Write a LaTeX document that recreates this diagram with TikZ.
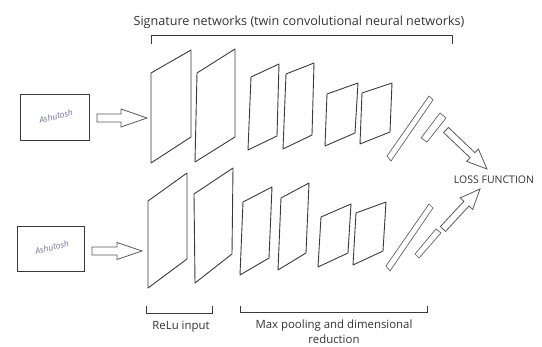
\documentclass[tikz,border=0pt]{standalone}
\usepackage{fontspec}
\setmainfont{Open Sans}
\usetikzlibrary{calc}

\definecolor{ink}{HTML}{3A3A3A}
\definecolor{txt}{HTML}{333333}
\definecolor{pen}{HTML}{6E73A8}

\tikzset{
  layer/.style={draw=ink, line width=0.9pt, line join=round},
  bar/.style={draw=ink!80, line width=0.7pt, line join=round},
  imgbox/.style={draw=ink, line width=0.9pt},
  fatarrow/.style={draw=ink!85, line width=0.8pt, line join=miter, fill=white},
  brace/.style={draw=ink, line width=0.9pt},
  label/.style={text=txt, font=\fontsize{11.4}{15}\selectfont, inner sep=0pt},
  sig/.style={text=pen, font=\fontsize{8.5}{9}\selectfont\itshape, inner sep=0pt, rotate=14}
}

% block arrow from #1 to #2: shaft half width #3, head length #4, head half width #5
\newcommand\blockarr[5]{%
  \coordinate (ba) at ($(#2)!#4!(#1)$);
  \draw[fatarrow] ($(#1)!#3!90:(#2)$) -- ($(ba)!#3!-90:(#1)$) -- ($(ba)!#5!-90:(#1)$)
    -- (#2) -- ($(ba)!#5!90:(#1)$) -- ($(ba)!#3!90:(#1)$) -- ($(#1)!#3!-90:(#2)$) -- cycle;
}

\begin{document}
\begin{tikzpicture}[x=1pt, y=-1pt]
\useasboundingbox (0,0) rectangle (542,347);

% title and bracket over the twin networks
\node[label, font=\fontsize{12.6}{15}\selectfont] (title) at (299,22) {Signature networks (twin convolutional neural networks)};
\draw[brace] (151,44) -- (151,35) -- (452,35) -- (452,44);

% input signature images
\node[imgbox, minimum width=69pt, minimum height=46pt, inner sep=0pt] (imgA) at (54.5,117) {};
\node[imgbox, minimum width=67pt, minimum height=45pt, inner sep=0pt] (imgB) at (50.5,248.5) {};
\node[sig] (sigA) at (56,116) {Ashutosh};
\node[sig] (sigB) at (52,247) {Ashutosh};

% arrows into the networks
\coordinate (inA1) at (97,118);  \coordinate (inA2) at (147,118);
\coordinate (inB1) at (92,251);  \coordinate (inB2) at (142,251);
\blockarr{inA1}{inA2}{4pt}{26pt}{9pt}
\blockarr{inB1}{inB2}{4pt}{25pt}{8.5pt}

% upper network layers
\draw[layer] (151,73) -- (191,50) -- (191,137) -- (151,163) -- cycle;
\draw[layer] (197,73) -- (235,49) -- (235,137) -- (195,162) -- cycle;
\draw[layer] (251,77) -- (279,64) -- (277,136) -- (248,150) -- cycle;
\draw[layer] (286,74) -- (314,63) -- (312,135) -- (283,149) -- cycle;
\draw[layer] (327,94) -- (358,83) -- (355,133) -- (325,146) -- cycle;
\draw[layer] (362,93) -- (392,83) -- (390,132) -- (360,144) -- cycle;
\draw[bar] (387,156) -- (429,96) -- (433,100) -- (391,161) -- cycle;
\draw[bar] (421,138) -- (440,113) -- (446,118) -- (427,142) -- cycle;

% lower network layers
\draw[layer] (148,201) -- (187,173) -- (187,259) -- (148,288) -- cycle;
\draw[layer] (194,194) -- (233,168) -- (232,254) -- (195,283) -- cycle;
\draw[layer] (243,202) -- (272,187) -- (269,258) -- (240,275) -- cycle;
\draw[layer] (281,198) -- (309,183) -- (306,253) -- (278,270) -- cycle;
\draw[layer] (321,217) -- (351,204) -- (348,253) -- (318,267) -- cycle;
\draw[layer] (356,213) -- (386,202) -- (383,251) -- (353,265) -- cycle;
\draw[bar] (386,266) -- (429,204) -- (433,208) -- (390,271) -- cycle;
\draw[bar] (415,254) -- (436,229) -- (441,233) -- (419,258) -- cycle;

% loss function
\node[label, font=\fontsize{10.5}{12}\selectfont] (loss) at (494,180) {LOSS FUNCTION};
\coordinate (outA1) at (446,130); \coordinate (outA2) at (487,169);
\coordinate (outB1) at (443,229); \coordinate (outB2) at (480,189);
\blockarr{outA1}{outA2}{3.5pt}{20pt}{8.5pt}
\blockarr{outB1}{outB2}{3.5pt}{20pt}{8.5pt}

% lower brackets and captions
\draw[brace] (146,306) -- (146,313) -- (212,313) -- (212,306);
\draw[brace] (240,306) -- (240,312) -- (427,312) -- (427,306);
\node[label] (relu) at (181,327) {ReLu input};
\node[label, align=center] (pool) at (334,332) {Max pooling and dimensional\\reduction};
\end{tikzpicture}
\end{document}
